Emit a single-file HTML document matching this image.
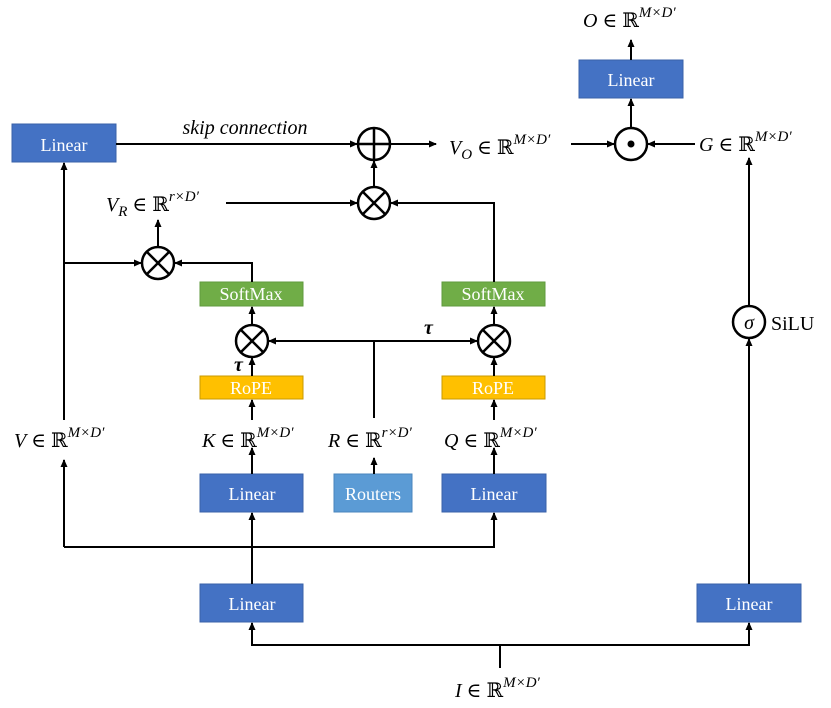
<!DOCTYPE html>
<html><head><meta charset="utf-8"><style>
html,body{margin:0;padding:0;background:#fff;}
svg{display:block;}
.b{font-family:"Liberation Serif",serif;font-size:18px;fill:#fff;text-anchor:middle;}
.m{font-family:"Liberation Serif","DejaVu Serif",serif;font-size:20px;fill:#000;}
.s{font-size:15px;}
</style></head><body>
<svg width="831" height="708" viewBox="0 0 831 708" xmlns="http://www.w3.org/2000/svg">
<defs><marker id="a" markerWidth="8" markerHeight="8" refX="7" refY="4" orient="auto" markerUnits="userSpaceOnUse"><path d="M0,0.5 L8,4 L0,7.5z" fill="#000"/></marker></defs>
<g>
<rect x="12" y="124" width="104" height="38" fill="#4472c4" stroke="#3a62a8"/>
<rect x="579" y="60" width="104" height="38" fill="#4472c4" stroke="#3a62a8"/>
<rect x="200" y="282" width="103" height="24" fill="#70ad47" stroke="#5f9a3c"/>
<rect x="442" y="282" width="103" height="24" fill="#70ad47" stroke="#5f9a3c"/>
<rect x="200" y="376" width="103" height="23" fill="#ffc000" stroke="#c99a00"/>
<rect x="442" y="376" width="103" height="23" fill="#ffc000" stroke="#c99a00"/>
<rect x="200" y="474" width="103" height="38" fill="#4472c4" stroke="#3a62a8"/>
<rect x="334" y="474" width="78" height="38" fill="#5b9bd5" stroke="#4a86bd"/>
<rect x="442" y="474" width="104" height="38" fill="#4472c4" stroke="#3a62a8"/>
<rect x="200" y="584" width="103" height="38" fill="#4472c4" stroke="#3a62a8"/>
<rect x="697" y="584" width="104" height="38" fill="#4472c4" stroke="#3a62a8"/>
</g>
<g class="b">
<text x="64" y="151">Linear</text>
<text x="631" y="86">Linear</text>
<text x="251" y="300">SoftMax</text>
<text x="493" y="300">SoftMax</text>
<text x="251" y="394">RoPE</text>
<text x="493" y="394">RoPE</text>
<text x="252" y="500">Linear</text>
<text x="373" y="500">Routers</text>
<text x="494" y="500">Linear</text>
<text x="252" y="610">Linear</text>
<text x="749" y="610">Linear</text>
</g>
<g stroke="#000" stroke-width="2" fill="none" marker-end="url(#a)">
<path d="M64,420 V163"/>
<path d="M64,263 H141"/>
<path d="M252,282 V263 H175"/>
<path d="M158,247 V220"/>
<path d="M226,203 H357"/>
<path d="M494,282 V203 H391"/>
<path d="M374,187 V161"/>
<path d="M116,144 H357"/>
<path d="M391,144 H436"/>
<path d="M571,144 H614"/>
<path d="M695,144 H648"/>
<path d="M631,128 V99"/>
<path d="M631,60 V40"/>
<path d="M374,418 V341 H269"/>
<path d="M374,341 H477"/>
<path d="M252,376 V358"/>
<path d="M494,376 V358"/>
<path d="M252,325 V307"/>
<path d="M494,325 V307"/>
<path d="M252,420 V400"/>
<path d="M494,420 V400"/>
<path d="M252,474 V448"/>
<path d="M374,474 V458"/>
<path d="M494,474 V448"/>
<path d="M252,584 V513"/>
<path d="M64,547 H494 V513" />
<path d="M64,547 V460"/>
<path d="M500,668 V645 H252 V623"/>
<path d="M500,645 H749 V623"/>
<path d="M749,584 V339"/>
<path d="M749,305 V158"/>
</g>
<g stroke="#000" stroke-width="2.5" fill="#fff">
<circle cx="374" cy="144" r="16"/>
<circle cx="374" cy="203" r="16"/>
<circle cx="158" cy="263" r="16"/>
<circle cx="252" cy="341" r="16"/>
<circle cx="494" cy="341" r="16"/>
<circle cx="631" cy="144" r="16"/>
<circle cx="749" cy="322" r="16"/>
</g>
<g stroke="#000" stroke-width="2.5">
<path d="M374,128V160M358,144H390"/>
<path d="M363,192L385,214M385,192L363,214"/>
<path d="M147,252L169,274M169,252L147,274"/>
<path d="M241,330L263,352M263,330L241,352"/>
<path d="M483,330L505,352M505,330L483,352"/>
</g>
<circle cx="631" cy="144" r="3.5" fill="#000"/>
<text x="749" y="329" class="m" text-anchor="middle" font-style="italic">σ</text>
<text x="771" y="330" class="m">SiLU</text>
<text x="245" y="134" class="m" text-anchor="middle" font-style="italic" font-size="15">skip connection</text>
<text x="234" y="371" class="m" font-style="italic" font-weight="bold" font-size="13">τ</text>
<text x="424" y="334" class="m" font-style="italic" font-weight="bold" font-size="13">τ</text>
<g class="m">
<text x="583" y="27"><tspan font-style="italic">O</tspan> ∈ ℝ<tspan class="s" dy="-10" font-style="italic">M×D′</tspan></text>
<text x="449" y="154"><tspan font-style="italic">V</tspan><tspan class="s" dy="5" font-style="italic">O</tspan><tspan dy="-5"> ∈ ℝ</tspan><tspan class="s" dy="-10" font-style="italic">M×D′</tspan></text>
<text x="699" y="151"><tspan font-style="italic">G</tspan> ∈ ℝ<tspan class="s" dy="-10" font-style="italic">M×D′</tspan></text>
<text x="106" y="211"><tspan font-style="italic">V</tspan><tspan class="s" dy="5" font-style="italic">R</tspan><tspan dy="-5"> ∈ ℝ</tspan><tspan class="s" dy="-10" font-style="italic">r×D′</tspan></text>
<text x="14" y="447"><tspan font-style="italic">V</tspan> ∈ ℝ<tspan class="s" dy="-10" font-style="italic">M×D′</tspan></text>
<text x="202" y="447"><tspan font-style="italic">K</tspan> ∈ ℝ<tspan class="s" dy="-10" font-style="italic">M×D′</tspan></text>
<text x="328" y="447"><tspan font-style="italic">R</tspan> ∈ ℝ<tspan class="s" dy="-10" font-style="italic">r×D′</tspan></text>
<text x="444" y="447"><tspan font-style="italic">Q</tspan> ∈ ℝ<tspan class="s" dy="-10" font-style="italic">M×D′</tspan></text>
<text x="455" y="697"><tspan font-style="italic">I</tspan> ∈ ℝ<tspan class="s" dy="-10" font-style="italic">M×D′</tspan></text>
</g>
</svg>
</body></html>
